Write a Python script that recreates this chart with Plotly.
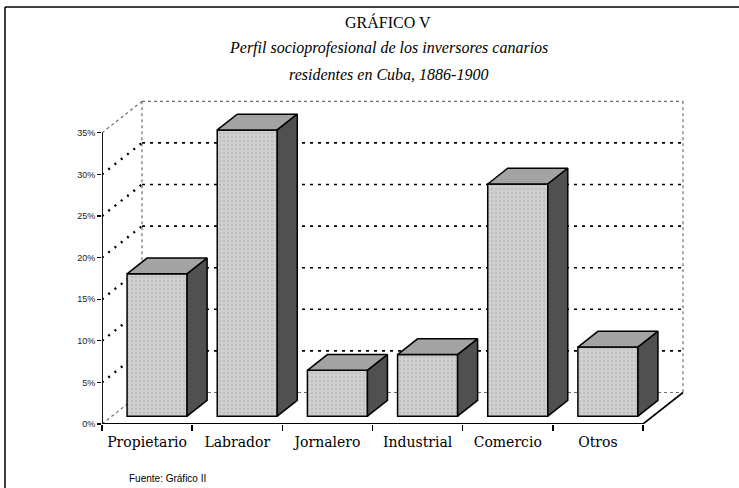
import plotly.graph_objects as go

# ---------------- data ----------------
categorias = ["Propietario", "Labrador", "Jornalero", "Industrial", "Comercio", "Otros"]
porcentajes = [17.1, 34.4, 5.5, 7.4, 27.9, 8.3]
ticks_y = [0, 5, 10, 15, 20, 25, 30, 35]
etiquetas_y = ["0%", "5%", "10%", "15%", "20%", "25%", "30%", "35%"]

titulo = "GRÁFICO V"
subtitulo_1 = "Perfil socioprofesional de los inversores canarios"
subtitulo_2 = "residentes en Cuba, 1886-1900"
fuente = "Fuente: Gráfico II"

# ---------------- page geometry ----------------
W_FIG, H_FIG = 739, 488
# plot area in page pixels
PL, PR, PT, PB = 102, 697, 95, 424
L, T = PL, PT
R = W_FIG - PR
B = H_FIG - PB
PW, PH = PR - PL, PB - PT
PX_PER_CAT = 90.17
PX_PER_PCT = 8.32
X_MIN = -0.5
X_MAX = X_MIN + PW / PX_PER_CAT
Y_MAX = PH / PX_PER_PCT

DX = 40 / PX_PER_CAT      # depth offset, category units
DY = 31.5 / PX_PER_PCT    # depth offset, percent units
HALF = 0.333              # half width of a bar front face
D0, D1 = 0.25, 0.75       # bar depth (fraction of the box depth)

n = len(categorias)
xs = list(range(n))
x_left, x_right = X_MIN, X_MIN + n
y_top = ticks_y[-1]


def px_x(p):
    return (p - PL) / PW


def px_y(p):
    return (PB - p) / PH


fig = go.Figure()

# ---------------- walls, floor and grid (shapes below traces) ----------------
shapes = []
gray_dot = dict(color="#6e6e6e", width=1.2, dash="dot")

# back wall gridlines (dashed)
for t in ticks_y[1:-1]:
    shapes.append(dict(type="line", layer="below", xref="x", yref="y",
                       x0=x_left + DX, x1=x_right + DX, y0=t + DY, y1=t + DY,
                       line=dict(color="black", width=1.6, dash="3px,5px")))
# side wall gridlines (heavy dots)
for t in ticks_y[1:-1]:
    shapes.append(dict(type="line", layer="below", xref="x", yref="y",
                       x0=x_left, x1=x_left + DX, y0=t, y1=t + DY,
                       line=dict(color="black", width=2.4, dash="2px,6px")))
# box outline (thin dotted grey)
outline = [
    (x_left, y_top, x_left + DX, y_top + DY),                 # side wall top
    (x_left + DX, y_top + DY, x_right + DX, y_top + DY),      # back wall top
    (x_right + DX, y_top + DY, x_right + DX, DY),             # back wall right
    (x_left + DX, y_top + DY, x_left + DX, DY),               # back wall left
    (x_left + DX, DY, x_right + DX, DY),                      # floor back
    (x_left, 0, x_left + DX, DY),                             # floor left
]
for x0, y0, x1, y1 in outline:
    shapes.append(dict(type="line", layer="below", xref="x", yref="y",
                       x0=x0, y0=y0, x1=x1, y1=y1, line=gray_dot))
# solid front edges
shapes.append(dict(type="line", layer="above", xref="x", yref="y",
                   x0=x_left, x1=x_right, y0=0, y1=0,
                   line=dict(color="black", width=1.8)))
shapes.append(dict(type="line", layer="above", xref="x", yref="y",
                   x0=x_right, x1=x_right + DX, y0=0, y1=DY,
                   line=dict(color="black", width=1.6)))
shapes.append(dict(type="line", layer="above", xref="x", yref="y",
                   x0=x_left, x1=x_left, y0=0, y1=y_top,
                   line=dict(color="black", width=1.8)))
# page frame (left and top)
shapes.append(dict(type="line", xref="paper", yref="paper",
                   x0=px_x(5), x1=px_x(5), y0=px_y(7), y1=px_y(488),
                   line=dict(color="black", width=1.5)))
shapes.append(dict(type="line", xref="paper", yref="paper",
                   x0=px_x(5), x1=px_x(739), y0=px_y(7), y1=px_y(7),
                   line=dict(color="black", width=1.5)))

# ---------------- bars ----------------
centers = [i + D0 * DX for i in xs]
base0 = D0 * DY
fig.add_trace(go.Bar(
    x=centers, y=porcentajes, base=base0, width=2 * HALF,
    marker=dict(color="#cfcfcf", line=dict(color="black", width=1.5),
                pattern=dict(shape=".", fgcolor="#a9a9a9", size=4, solidity=0.25)),
    hoverinfo="skip", showlegend=False))

dd = (D1 - D0)
for c, v in zip(centers, porcentajes):
    t = base0 + v
    # top face
    fig.add_trace(go.Scatter(
        x=[c - HALF, c + HALF, c + HALF + dd * DX, c - HALF + dd * DX, c - HALF],
        y=[t, t, t + dd * DY, t + dd * DY, t],
        mode="lines", fill="toself", fillcolor="#a3a3a3",
        line=dict(color="black", width=1.5), hoverinfo="skip", showlegend=False))
    # side face
    fig.add_trace(go.Scatter(
        x=[c + HALF, c + HALF + dd * DX, c + HALF + dd * DX, c + HALF, c + HALF],
        y=[base0, base0 + dd * DY, t + dd * DY, t, base0],
        mode="lines", fill="toself", fillcolor="#505050",
        line=dict(color="black", width=1.5), hoverinfo="skip", showlegend=False))

# ---------------- text ----------------
annotations = [
    dict(text=titulo, x=px_x(388), y=px_y(22), xref="paper", yref="paper",
         showarrow=False, xanchor="center", yanchor="middle",
         font=dict(family="Liberation Serif", size=16, color="black")),
    dict(text="<i>" + subtitulo_1 + "</i>", x=px_x(388), y=px_y(48), xref="paper", yref="paper",
         showarrow=False, xanchor="center", yanchor="middle",
         font=dict(family="Liberation Serif", size=16, color="black")),
    dict(text="<i>" + subtitulo_2 + "</i>", x=px_x(388), y=px_y(74), xref="paper", yref="paper",
         showarrow=False, xanchor="center", yanchor="middle",
         font=dict(family="Liberation Serif", size=16, color="black")),
    dict(text=fuente, x=px_x(127), y=px_y(478), xref="paper", yref="paper",
         showarrow=False, xanchor="left", yanchor="middle",
         font=dict(family="Liberation Sans", size=10, color="black")),
]

fig.update_layout(
    width=W_FIG, height=H_FIG,
    margin=dict(l=L, r=R, t=T, b=B, autoexpand=False),
    paper_bgcolor="white", plot_bgcolor="white",
    showlegend=False, bargap=0, hovermode=False,
    shapes=shapes, annotations=annotations,
    xaxis=dict(range=[X_MIN, X_MAX], tickmode="array", tickvals=xs, ticktext=categorias,
               ticks="", showgrid=False, zeroline=False, showline=False,
               ticklabelstandoff=8,
               tickfont=dict(family="DejaVu Serif", size=14, color="black"),
               minor=dict(tickmode="array", tickvals=[X_MIN + k for k in range(n + 1)],
                          ticks="outside", ticklen=6, tickwidth=1.5, tickcolor="black",
                          showgrid=False)),
    yaxis=dict(range=[0, Y_MAX], tickmode="array", tickvals=ticks_y, ticktext=etiquetas_y,
               ticks="outside", ticklen=4, tickwidth=1.2, tickcolor="black",
               showgrid=False, zeroline=False, showline=False,
               tickfont=dict(family="Liberation Sans", size=9, color="#222")),
)

fig.write_html("out.html",
               config={"displayModeBar": False, "staticPlot": True},
               post_script="document.body.style.margin='0px';document.body.style.overflow='hidden';")
